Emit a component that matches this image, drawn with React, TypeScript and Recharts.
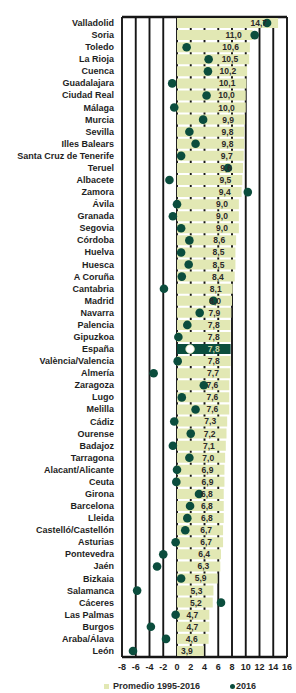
import React from 'react';
import {
  ComposedChart,
  Bar,
  Line,
  XAxis,
  YAxis,
  CartesianGrid,
  Cell,
} from 'recharts';

const categories = [
  'Valladolid', 'Soria', 'Toledo', 'La Rioja', 'Cuenca', 'Guadalajara', 'Ciudad Real', 'Málaga',
  'Murcia', 'Sevilla', 'Illes Balears', 'Santa Cruz de Tenerife', 'Teruel', 'Albacete', 'Zamora',
  'Ávila', 'Granada', 'Segovia', 'Córdoba', 'Huelva', 'Huesca', 'A Coruña', 'Cantabria', 'Madrid',
  'Navarra', 'Palencia', 'Gipuzkoa', 'España', 'València/Valencia', 'Almería', 'Zaragoza', 'Lugo',
  'Melilla', 'Cádiz', 'Ourense', 'Badajoz', 'Tarragona', 'Alacant/Alicante', 'Ceuta', 'Girona',
  'Barcelona', 'Lleida', 'Castelló/Castellón', 'Asturias', 'Pontevedra', 'Jaén', 'Bizkaia',
  'Salamanca', 'Cáceres', 'Las Palmas', 'Burgos', 'Araba/Álava', 'León',
];

const promedio = [
  14.7, 11.0, 10.6, 10.5, 10.2, 10.1, 10.0, 10.0,
  9.9, 9.8, 9.8, 9.7, 9.6, 9.5, 9.4,
  9.0, 9.0, 9.0, 8.6, 8.5, 8.5, 8.4, 8.1, 8.0,
  7.9, 7.8, 7.8, 7.8, 7.8, 7.7, 7.6, 7.6,
  7.6, 7.3, 7.2, 7.1, 7.0, 6.9, 6.9, 6.8,
  6.8, 6.8, 6.7, 6.7, 6.4, 6.3, 5.9,
  5.3, 5.2, 4.7, 4.7, 4.6, 3.9,
];

const valores2016 = [
  13.1, 11.3, 1.4, 4.6, 4.5, -0.7, 4.3, -0.4,
  3.8, 1.8, 2.7, 0.6, 7.4, -1.1, 10.3,
  0.0, -0.6, 0.6, 1.8, 0.6, 1.7, 0.7, -1.9, 5.3,
  3.3, 1.5, 0.2, 1.9, 0.1, -3.4, 3.9, 0.7,
  2.7, -0.4, 2.0, -0.6, 1.8, 0.0, -0.1, 3.2,
  1.9, 1.5, 1.2, -0.2, -2.0, -2.9, 0.6,
  -5.8, 6.4, -0.2, -3.8, -1.6, -6.4,
];

const xTicks = [-8, -6, -4, -2, 0, 2, 4, 6, 8, 10, 12, 14, 16];

const legendLabels = ['Promedio 1995-2016', '2016'];

const data = categories.map((name, i) => ({
  name,
  promedio: promedio[i],
  v2016: valores2016[i],
}));

const FONT = '"Liberation Sans", Arial, sans-serif';
const BAR_FILL = '#e2e8b4';
const DARK = '#0b4d3d';
const LINE = '#161616';
const HIGHLIGHT = 'España';

const fmt = (v: number) => v.toFixed(1).replace('.', ',');

const renderDot = (props: any) => {
  const { cx, cy, index } = props;
  if (cx == null || cy == null) return <g key={`d${index}`} />;
  const hl = categories[index] === HIGHLIGHT;
  return (
    <circle
      key={`d${index}`}
      cx={cx}
      cy={cy}
      r={4.3}
      fill={hl ? '#ffffff' : DARK}
      stroke={hl ? '#d8e0b0' : 'none'}
      strokeWidth={hl ? 0.8 : 0}
    />
  );
};

const renderLabel = (props: any) => {
  const { x, y, width, height, value, index } = props;
  const hl = categories[index] === HIGHLIGHT;
  return (
    <text
      key={`l${index}`}
      x={x + width - 11}
      y={y + height / 2}
      textAnchor="end"
      dominantBaseline="central"
      fontSize={8.5}
      fontWeight="bold"
      fontFamily={FONT}
      fill={hl ? '#c9d3a0' : '#2a2a2a'}
    >
      {fmt(value)}
    </text>
  );
};

const YTick = (props: any) => {
  const { x, y, payload } = props;
  return (
    <text
      x={x}
      y={y}
      textAnchor="end"
      dominantBaseline="central"
      fontSize={9}
      fontWeight="bold"
      fontFamily={FONT}
      fill="#1e1e1e"
    >
      {payload.value}
    </text>
  );
};

export default function App() {
  return (
    <div style={{ position: 'absolute', left: 0, top: 0, width: 296, height: 693 }}>
      <ComposedChart
        width={296}
        height={693}
        data={data}
        layout="vertical"
        margin={{ top: 17, right: 9, left: 0, bottom: 16 }}
      >
        <CartesianGrid horizontal={false} vertical stroke={LINE} strokeWidth={1.9} />
        <CartesianGrid
          vertical={false}
          horizontal
          horizontalPoints={[17, 657]}
          stroke={LINE}
          strokeWidth={2.4}
        />
        <XAxis
          type="number"
          domain={[-8, 16]}
          ticks={xTicks}
          interval={0}
          height={20}
          axisLine={false}
          tickLine={false}
          tickSize={0}
          tickMargin={7}
          tick={{ fontSize: 9, fontWeight: 'bold', fontFamily: FONT, fill: '#1e1e1e' }}
        />
        <YAxis
          type="category"
          dataKey="name"
          width={122}
          interval={0}
          axisLine={false}
          tickLine={false}
          tickSize={0}
          tickMargin={8}
          tick={YTick}
        />
        <Bar dataKey="promedio" barSize={10} fill={BAR_FILL} isAnimationActive={false} label={renderLabel}>
          {data.map((d, i) => (
            <Cell key={`c${i}`} fill={d.name === HIGHLIGHT ? DARK : BAR_FILL} />
          ))}
        </Bar>
        <Line
          dataKey="v2016"
          stroke="none"
          dot={renderDot}
          activeDot={false}
          isAnimationActive={false}
        />
      </ComposedChart>
      <div
        style={{
          position: 'absolute',
          left: 0,
          top: 680,
          width: 296,
          height: 12,
          fontFamily: FONT,
          fontSize: 9,
          fontWeight: 'bold',
          color: '#2a2a2a',
          lineHeight: '12px',
        }}
      >
        <span
          style={{
            position: 'absolute',
            left: 104,
            top: 4,
            width: 5,
            height: 5,
            background: BAR_FILL,
          }}
        />
        <span style={{ position: 'absolute', left: 113, top: 0, whiteSpace: 'nowrap' }}>{legendLabels[0]}</span>
        <span
          style={{
            position: 'absolute',
            left: 230,
            top: 4,
            width: 5,
            height: 5,
            borderRadius: '50%',
            background: DARK,
          }}
        />
        <span style={{ position: 'absolute', left: 236, top: 0, whiteSpace: 'nowrap' }}>{legendLabels[1]}</span>
      </div>
    </div>
  );
}
